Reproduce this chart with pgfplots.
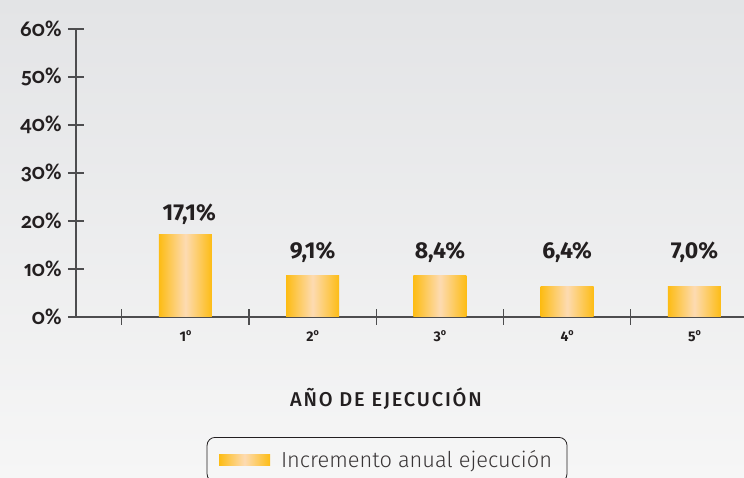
\documentclass[border=0pt]{standalone}
\usepackage{pgfplots}
\pgfplotsset{compat=1.18}
\usepackage{fontspec}
\setmainfont{Fira Sans}
\newfontfamily\tickfont[Numbers={OldStyle,Proportional}]{Carlito}
\newfontfamily\lightfont{Fira Sans Light}
\newfontfamily\medfont[LetterSpace=9]{Fira Sans Medium}
\newcommand{\ord}[1]{#1\raisebox{0.42em}{\fontsize{9}{9}\selectfont o}}
\definecolor{baredge}{HTML}{FDBC14}
\definecolor{barmid}{HTML}{FDDBB2}
\definecolor{axisgray}{HTML}{4D4D4F}
\definecolor{txt}{HTML}{231F20}
\definecolor{bgtop}{HTML}{E3E4E6}
\definecolor{bgbot}{HTML}{F6F6F6}
\pgfplotsset{barstyle/.style={ybar, bar width=53pt, bar shift=0pt, draw=none, left color=baredge, right color=baredge, middle color=barmid}}
\begin{document}
\begin{tikzpicture}
\shade[top color=bgtop, bottom color=bgbot] (-76pt,-161pt) rectangle (668pt,317pt);
\begin{axis}[
  scale only axis, width=668pt, height=288pt,
  xmin=0.14, xmax=5.39, ymin=0, ymax=60,
  axis lines=left, axis line style={-, draw=axisgray, line width=1.3pt},
  every tick/.style={draw=axisgray, line width=1.3pt},
  tick align=center, major tick length=16pt,
  ytick={0,10,20,30,40,50,60},
  yticklabel={\hbox{\tickfont\bfseries\fontsize{22.5}{24}\selectfont\pgfmathprintnumber[assume math mode=true]{\tick}\%}},
  yticklabel style={text=txt, anchor=east, xshift=-3pt},
  xtick={0.5,1.5,2.5,3.5,4.5},
  xticklabels={},
  extra x ticks={1,2,3,4,5},
  extra x tick labels={\ord{1},\ord{2},\ord{3},\ord{4},\ord{5}},
  extra x tick style={major tick length=0pt, xticklabel style={font=\bfseries\fontsize{14}{16}\selectfont, text=txt, yshift=-10pt}},
  xlabel={AÑO DE EJECUCIÓN},
  xlabel style={at={(axis description cs:0.464,0)}, anchor=center, yshift=-82pt, font=\medfont\fontsize{20}{22}\selectfont, text=txt},
  legend style={at={(axis description cs:0.4656,-0.4167)}, anchor=north, draw=txt, line width=0.8pt, rounded corners=8pt, fill=none, inner xsep=12pt, inner ysep=10pt, font=\lightfont\fontsize{21.8}{25}\selectfont, text=txt!90, nodes={inner sep=3pt}, /tikz/every odd column/.append style={column sep=8pt}},
  legend image code/.code={\shade[sharp corners, left color=baredge,right color=baredge,middle color=barmid] (0pt,-5.5pt) rectangle (51pt,5.5pt);},
]
\addplot[barstyle] coordinates {(1,17.1)};
\addlegendentry{Incremento anual ejecución}
\addplot[barstyle, forget plot] coordinates {(2,8.7)};
\addplot[barstyle, forget plot] coordinates {(3,8.7)};
\addplot[barstyle, forget plot] coordinates {(4,6.25)};
\addplot[barstyle, forget plot] coordinates {(5,6.25)};
\node[font=\bfseries\fontsize{23}{25}\selectfont, text=txt] at (axis cs:1.03,21.5) {17,1\%};
\node[font=\bfseries\fontsize{23}{25}\selectfont, text=txt] at (axis cs:2,13.5) {9,1\%};
\node[font=\bfseries\fontsize{23}{25}\selectfont, text=txt] at (axis cs:3,13.5) {8,4\%};
\node[font=\bfseries\fontsize{23}{25}\selectfont, text=txt] at (axis cs:4,13.5) {6,4\%};
\node[font=\bfseries\fontsize{23}{25}\selectfont, text=txt] at (axis cs:5,13.5) {7,0\%};
\end{axis}
\pgfresetboundingbox
\useasboundingbox (-76pt,-161pt) rectangle (668pt,317pt);
\end{tikzpicture}
\end{document}
